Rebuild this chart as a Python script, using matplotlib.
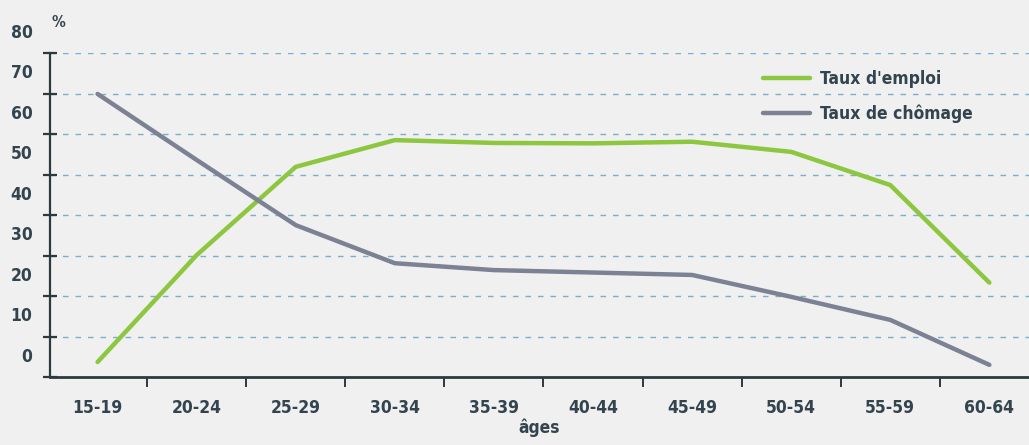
import matplotlib.pyplot as plt
import matplotlib.transforms as mtransforms

plt.rcParams['font.family'] = ['Liberation Sans Narrow', 'DejaVu Sans']
plt.rcParams['font.stretch'] = 'condensed'
plt.rcParams['font.weight'] = 'bold'
plt.rcParams['axes.labelweight'] = 'bold'

ages = ["15-19", "20-24", "25-29", "30-34", "35-39",
        "40-44", "45-49", "50-54", "55-59", "60-64"]
emploi = [3.7, 30.1, 51.9, 58.5, 57.8, 57.7, 58.1, 55.6, 47.4, 23.3]
chomage = [69.9, 53.6, 37.5, 28.1, 26.4, 25.8, 25.2, 19.8, 14.1, 3.0]
y_labels = [0, 10, 20, 30, 40, 50, 60, 70, 80]

bg = "#f0f0f0"
txt = "#33444f"

fig = plt.figure(figsize=(10.29, 4.45), dpi=100, facecolor=bg)
ax = fig.add_axes([0.0486, 0.1528, 0.9514, 0.728])
ax.set_facecolor(bg)

x = list(range(len(ages)))
ax.plot(x, emploi, color="#8dc63f", lw=3.2, solid_capstyle="round",
        label="Taux d'emploi", zorder=3)
ax.plot(x, chomage, color="#7c8294", lw=3.2, solid_capstyle="round",
        label="Taux de chômage", zorder=3)

ax.set_xlim(-0.48, 9.4)
ax.set_ylim(0, 80)

# dashed gridlines
for v in y_labels[1:]:
    ax.axhline(v, color="#7aaecb", lw=1.0, ls=(0, (4, 5)), zorder=1)

# spines
for s in ["top", "right"]:
    ax.spines[s].set_visible(False)
ax.spines["left"].set_color("#2c3a40")
ax.spines["left"].set_linewidth(1.6)
ax.spines["bottom"].set_color("#2c3a40")
ax.spines["bottom"].set_linewidth(2.0)

# y ticks: marks at gridlines, labels shifted half a step up
ax.set_yticks(y_labels)
ax.set_yticklabels([])
ax.tick_params(axis="y", direction="inout", length=10, width=1.6, color="#2c3a40")
trans = mtransforms.blended_transform_factory(ax.transAxes, ax.transData)
for v in y_labels:
    ax.text(-0.018, v + 5.0, str(v), transform=trans, ha="right", va="center",
            fontsize=12.5, color=txt, clip_on=False)
ax.text(0.009, 87.5, "%", transform=trans, ha="center", va="center",
        fontsize=11, color=txt, clip_on=False)

# x ticks: marks between categories, labels at centers
ax.set_xticks([i + 0.5 for i in range(len(ages) - 1)])
ax.set_xticklabels([])
ax.set_xticks(x, minor=True)
ax.set_xticklabels(ages, minor=True, fontsize=12.5, color=txt)
ax.tick_params(axis="x", which="major", direction="out", length=7, width=1.4,
               color="#2c3a40")
ax.tick_params(axis="x", which="minor", length=0, pad=16)
ax.set_xlabel("âges", fontsize=12.5, color=txt, labelpad=1)

leg = ax.legend(loc="upper left", bbox_to_anchor=(0.712, 0.995), frameon=False,
                fontsize=12.5, handlelength=2.7, labelspacing=0.95,
                handletextpad=0.6)
for t in leg.get_texts():
    t.set_color(txt)

fig.savefig("out.png", dpi=100, facecolor=bg)
